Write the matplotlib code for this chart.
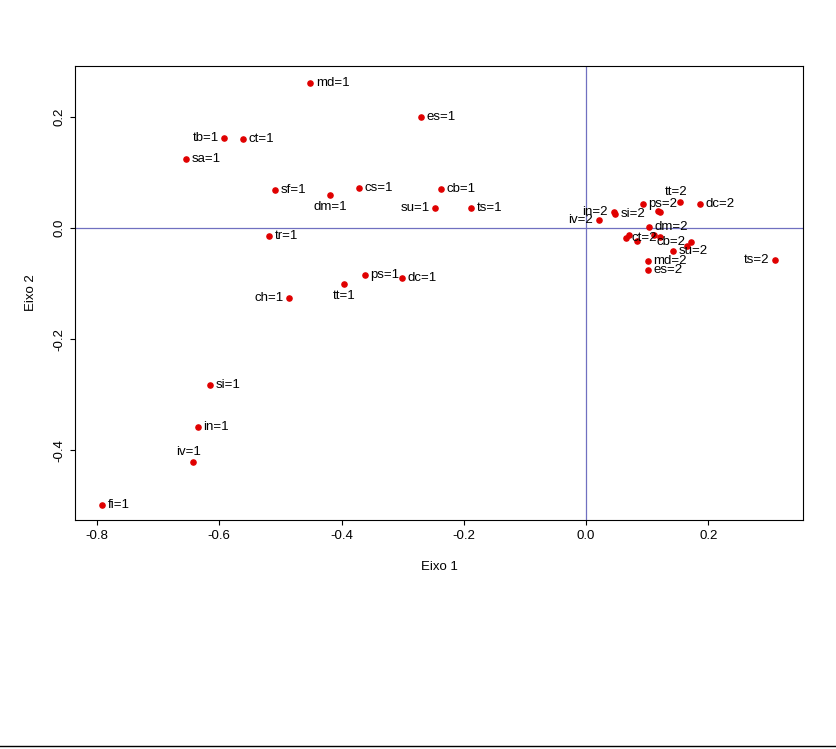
import matplotlib.pyplot as plt

# categoria=1
names1 = ['md', 'es', 'tb', 'ct', 'sa', 'sf', 'dm', 'cs', 'cb', 'su', 'ts', 'tr',
          'ps', 'dc', 'tt', 'ch', 'si', 'in', 'iv', 'fi']
x1 = [-0.451, -0.270, -0.592, -0.561, -0.655, -0.509, -0.419, -0.372, -0.237, -0.247,
      -0.188, -0.518, -0.362, -0.301, -0.396, -0.486, -0.615, -0.635, -0.643, -0.792]
y1 = [0.261, 0.200, 0.162, 0.160, 0.124, 0.068, 0.059, 0.072, 0.070, 0.036,
      0.036, -0.014, -0.085, -0.090, -0.101, -0.126, -0.283, -0.359, -0.422, -0.499]

# categoria=2
names2 = ['iv', 'in', 'si', 'ps', 'tb', 'sa', 'tt', 'dc', 'dm', 'ct', 'sf', 'cs',
          'tr', 'cb', 'ch', 'su', 'md', 'es', 'ts', 'fi']
x2 = [0.021, 0.045, 0.047, 0.093, 0.118, 0.121, 0.154, 0.187, 0.103, 0.065, 0.083,
      0.111, 0.121, 0.172, 0.165, 0.142, 0.101, 0.101, 0.309, 0.070]
y2 = [0.014, 0.029, 0.025, 0.043, 0.031, 0.029, 0.047, 0.044, 0.002, -0.018, -0.023,
      -0.013, -0.016, -0.025, -0.032, -0.041, -0.059, -0.076, -0.058, -0.012]

# label placement (points offset, ha)
left = {'su=1', 'ch=1', 'tb=1', 'iv=2', 'in=2', 'cb=2', 'ts=2'}
below = {'dm=1', 'tt=1'}
above = {'iv=1', 'tt=2'}
hidden = {'tb=2', 'sa=2', 'sf=2', 'cs=2', 'tr=2', 'ch=2', 'fi=2'}

fig = plt.figure(figsize=(8.36, 7.49), dpi=100)
ax = fig.add_axes([75/836, 1-520/749, (803-75)/836, (520-66)/749])

ax.axhline(0, color='#7070c0', lw=0.9)
ax.axvline(0, color='#7070c0', lw=0.9)

def draw(xs, ys, names, suf):
    ax.scatter(xs, ys, s=14, color='#e00000', zorder=3)
    for x, y, n in zip(xs, ys, names):
        lab = n + suf
        if lab in hidden:
            continue
        if lab in left:
            off, ha, va = (-4, 0), 'right', 'center'
        elif lab in below:
            off, ha, va = (0, -4), 'center', 'top'
        elif lab in above:
            off, ha, va = (-3, 3), 'center', 'bottom'
        else:
            off, ha, va = (4, 0), 'left', 'center'
        ax.annotate(lab, (x, y), xytext=off, textcoords='offset points',
                    ha=ha, va=va, fontsize=9.5, family='Liberation Sans')

draw(x1, y1, names1, '=1')
draw(x2, y2, names2, '=2')

ax.set_xlim(-0.836, 0.355)
ax.set_ylim(-0.526, 0.292)
ax.set_xticks([-0.8, -0.6, -0.4, -0.2, 0.0, 0.2])
ax.set_yticks([-0.4, -0.2, 0.0, 0.2])
ax.set_yticklabels(['-0.4', '-0.2', '0.0', '0.2'], rotation=90, va='center')
ax.set_xticklabels(['-0.8', '-0.6', '-0.4', '-0.2', '0.0', '0.2'])
for t in ax.get_xticklabels() + ax.get_yticklabels():
    t.set_family('Liberation Sans')
    t.set_fontsize(9.5)
ax.set_xlabel('Eixo 1', family='Liberation Sans', fontsize=9.5, labelpad=14)
ax.set_ylabel('Eixo 2', family='Liberation Sans', fontsize=9.5, labelpad=12)

fig.add_artist(plt.Line2D([0, 1], [1-746/749, 1-746/749], color='black', lw=1))
fig.savefig('out.png', dpi=100)
